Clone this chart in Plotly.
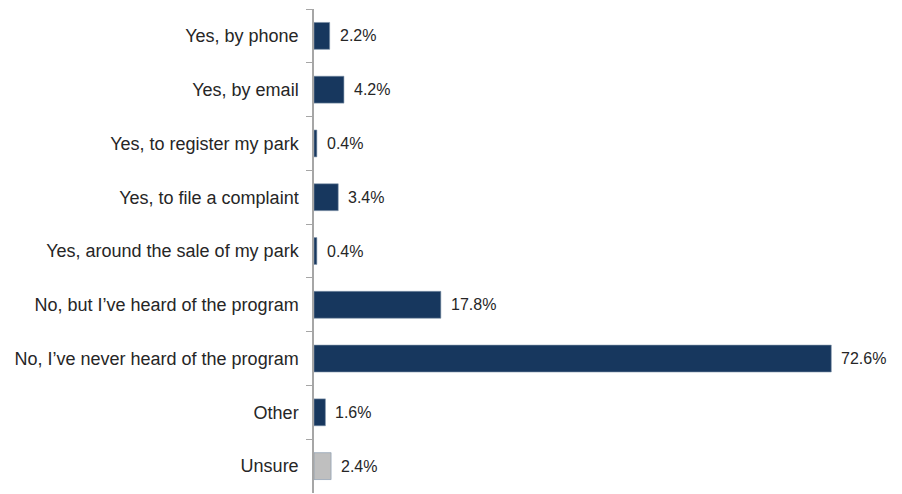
import plotly.graph_objects as go

categories = [
    "Yes, by phone",
    "Yes, by email",
    "Yes, to register my park",
    "Yes, to file a complaint",
    "Yes, around the sale of my park",
    "No, but I\u2019ve heard of the program",
    "No, I\u2019ve never heard of the program",
    "Other",
    "Unsure",
]
values = [2.2, 4.2, 0.4, 3.4, 0.4, 17.8, 72.6, 1.6, 2.4]
bar_colors = ["#17375E"] * 8 + ["#BFBFBF"]

FONT = "Liberation Sans, Arial, sans-serif"

fig = go.Figure(
    go.Bar(
        x=values,
        y=categories,
        orientation="h",
        marker=dict(color=bar_colors, line=dict(color="#8093AA", width=0.6)),
        width=0.5,
        hoverinfo="skip",
    )
)

for cat, val in zip(categories, values):
    fig.add_annotation(
        x=val,
        y=cat,
        text=f"{val:.1f}%",
        showarrow=False,
        xanchor="left",
        xshift=8,
        font=dict(family=FONT, size=16, color="#262626"),
    )

fig.update_layout(
    width=902,
    height=494,
    margin=dict(l=314, r=18, t=9, b=1),
    paper_bgcolor="white",
    plot_bgcolor="white",
    showlegend=False,
    font=dict(family=FONT, size=16, color="#262626"),
    xaxis=dict(
        range=[0, 80],
        visible=False,
        showgrid=False,
        zeroline=False,
    ),
    yaxis=dict(
        autorange="reversed",
        showline=True,
        linecolor="#A6A6A6",
        linewidth=1.5,
        ticks="outside",
        tickson="boundaries",
        ticklen=6,
        tickcolor="#A6A6A6",
        tickwidth=1,
        showgrid=False,
        ticklabelstandoff=10,
        tickfont=dict(family=FONT, size=18, color="#262626"),
    ),
)

fig.write_html("out.html")
